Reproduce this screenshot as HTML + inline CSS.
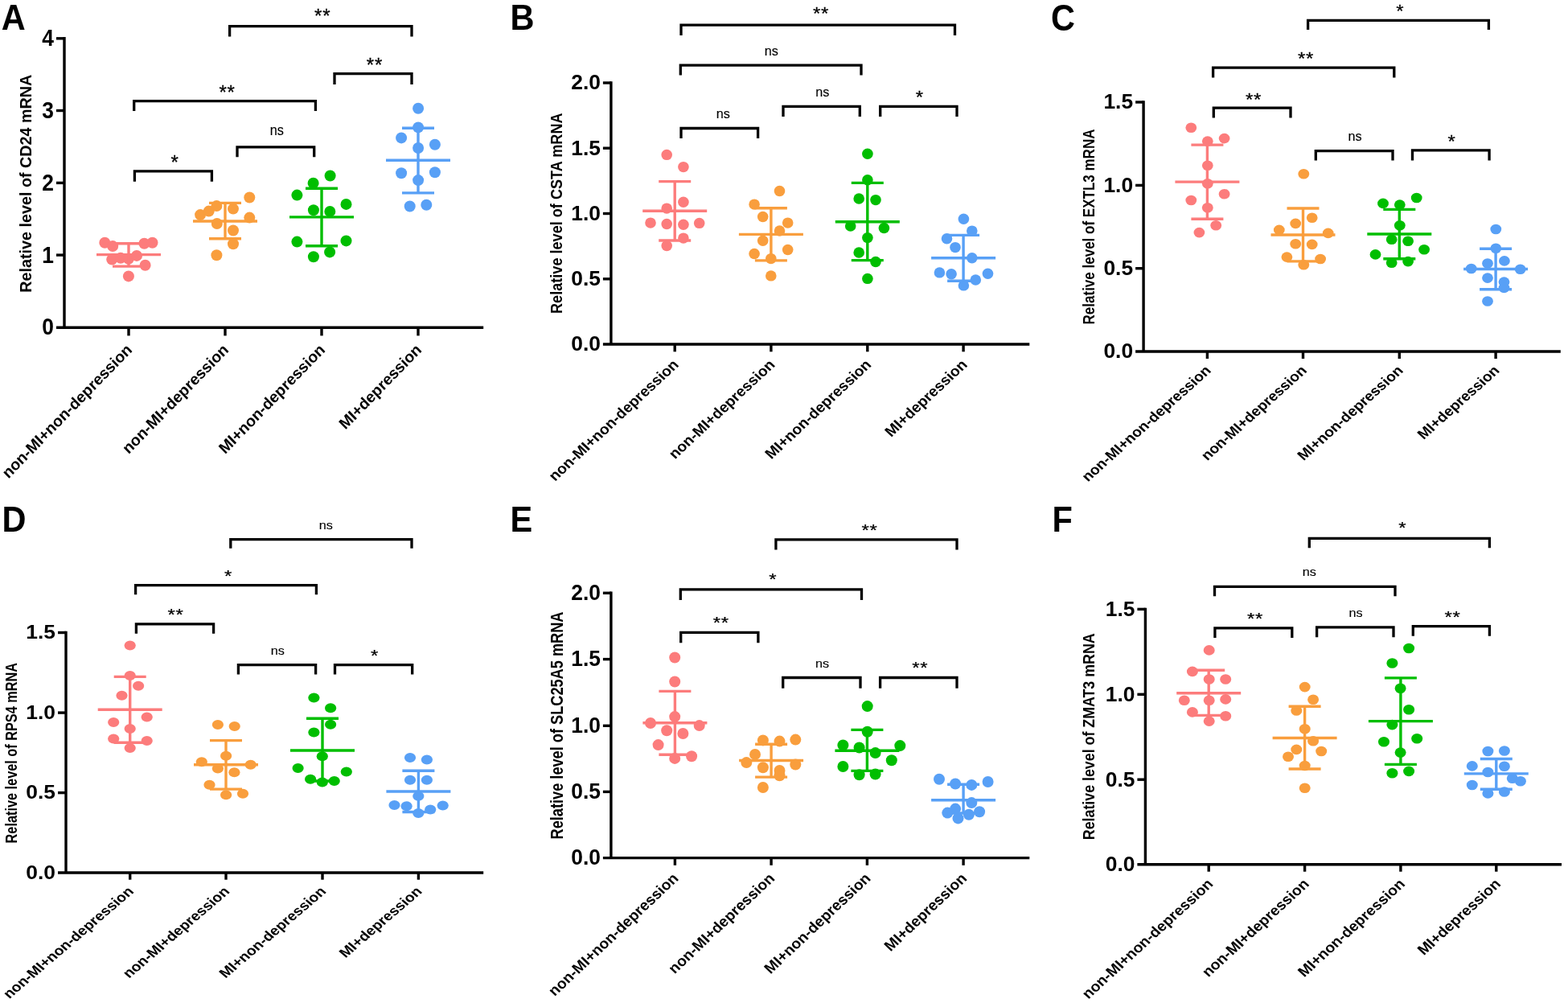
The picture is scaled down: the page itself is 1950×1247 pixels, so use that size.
<!DOCTYPE html>
<html><head><meta charset="utf-8"><title>Figure</title>
<style>html,body{margin:0;padding:0;background:#fff;}svg{display:block;}</style>
</head><body>
<svg width="1950" height="1247" viewBox="0 0 1950 1247" font-family="'Liberation Sans', Arial, Helvetica, sans-serif" fill="#000">
<rect width="1950" height="1247" fill="#fff"/>
<g fill="#FC7C7C">
<circle cx="130.3" cy="301.8" r="7"/>
<circle cx="140.2" cy="306.1" r="7"/>
<circle cx="179.4" cy="302.7" r="7"/>
<circle cx="189.5" cy="301.8" r="7"/>
<circle cx="139.2" cy="322.6" r="7"/>
<circle cx="150" cy="320.8" r="7"/>
<circle cx="159.9" cy="321.7" r="7"/>
<circle cx="170" cy="317.9" r="7"/>
<circle cx="180.6" cy="329.7" r="7"/>
<circle cx="159.9" cy="343.4" r="7"/>
</g>
<g stroke="#FC7C7C" stroke-width="3.4" fill="none">
<line x1="120" y1="316.6" x2="200" y2="316.6"/>
<line x1="140" y1="302.7" x2="180" y2="302.7"/>
<line x1="140" y1="331.1" x2="180" y2="331.1"/>
<line x1="160" y1="302.7" x2="160" y2="331.1"/>
</g>
<g fill="#F99E3D">
<circle cx="249.1" cy="267.1" r="7"/>
<circle cx="259.7" cy="262.6" r="7"/>
<circle cx="269.4" cy="256.1" r="7"/>
<circle cx="290" cy="259.6" r="7"/>
<circle cx="310.3" cy="245.5" r="7"/>
<circle cx="310.3" cy="270.6" r="7"/>
<circle cx="269.8" cy="278" r="7"/>
<circle cx="290" cy="286.5" r="7"/>
<circle cx="290" cy="303.2" r="7"/>
<circle cx="269.4" cy="317.3" r="7"/>
</g>
<g stroke="#F99E3D" stroke-width="3.4" fill="none">
<line x1="240" y1="275" x2="320" y2="275"/>
<line x1="260" y1="252.4" x2="300" y2="252.4"/>
<line x1="260" y1="296.7" x2="300" y2="296.7"/>
<line x1="280" y1="252.4" x2="280" y2="296.7"/>
</g>
<g fill="#00BE00">
<circle cx="410.6" cy="218.5" r="7"/>
<circle cx="389.6" cy="227.8" r="7"/>
<circle cx="369.4" cy="242.6" r="7"/>
<circle cx="430.5" cy="253.9" r="7"/>
<circle cx="389.9" cy="261.2" r="7"/>
<circle cx="410.3" cy="262.9" r="7"/>
<circle cx="369.4" cy="300.6" r="7"/>
<circle cx="430.5" cy="299.4" r="7"/>
<circle cx="410.1" cy="313.4" r="7"/>
<circle cx="389.9" cy="319.3" r="7"/>
</g>
<g stroke="#00BE00" stroke-width="3.4" fill="none">
<line x1="360" y1="269.9" x2="440" y2="269.9"/>
<line x1="380" y1="234.2" x2="420" y2="234.2"/>
<line x1="380" y1="305.8" x2="420" y2="305.8"/>
<line x1="400" y1="234.2" x2="400" y2="305.8"/>
</g>
<g fill="#58A0F6">
<circle cx="520.1" cy="134.8" r="7"/>
<circle cx="520.1" cy="158.4" r="7"/>
<circle cx="499.1" cy="171.4" r="7"/>
<circle cx="540.9" cy="179.8" r="7"/>
<circle cx="520.1" cy="184" r="7"/>
<circle cx="499.1" cy="215.2" r="7"/>
<circle cx="540.9" cy="214.3" r="7"/>
<circle cx="520.1" cy="224.1" r="7"/>
<circle cx="509.7" cy="256.5" r="7"/>
<circle cx="530.3" cy="254.8" r="7"/>
</g>
<g stroke="#58A0F6" stroke-width="3.4" fill="none">
<line x1="480" y1="199.2" x2="560" y2="199.2"/>
<line x1="500" y1="159.3" x2="540" y2="159.3"/>
<line x1="500" y1="239.9" x2="540" y2="239.9"/>
<line x1="520" y1="159.3" x2="520" y2="239.9"/>
</g>
<g stroke="#000" stroke-width="3.4" fill="none">
<path d="M80 46.1V407.2"/>
<path d="M70 407.2H601.2"/>
<path d="M70 317.1H80"/>
<path d="M70 227.4H80"/>
<path d="M70 137.5H80"/>
<path d="M70 47.8H80"/>
<path d="M160 407.2V417.4"/>
<path d="M280 407.2V417.4"/>
<path d="M400 407.2V417.4"/>
<path d="M520 407.2V417.4"/>
</g>
<g stroke="#000" stroke-width="3.3" fill="none">
<path d="M285.6 45.5V32.7H512V45.5"/>
<path d="M416 105V91.6H512V105"/>
<path d="M166.7 138V125.6H392.4V138"/>
<path d="M295 195.3V182.9H390.7V195.3"/>
<path d="M167.4 225.7V212.9H263.4V225.7"/>
</g>
<text transform="translate(401.2 11) scale(0.96 0.99)" y="17.4" text-anchor="middle" font-size="25" stroke="#000" stroke-width="0.3" letter-spacing="0.8">**</text>
<text transform="translate(465.9 71.7) scale(0.96 0.99)" y="17.4" text-anchor="middle" font-size="25" stroke="#000" stroke-width="0.3" letter-spacing="0.8">**</text>
<text transform="translate(282.6 105.4) scale(0.96 0.99)" y="17.4" text-anchor="middle" font-size="25" stroke="#000" stroke-width="0.3" letter-spacing="0.8">**</text>
<text transform="translate(344.2 163.1) scale(0.9 0.99)" y="5" text-anchor="middle" font-size="18" stroke="#000" stroke-width="0.15">ns</text>
<text transform="translate(217.2 192.3) scale(0.96 0.99)" y="17.4" text-anchor="middle" font-size="25" stroke="#000" stroke-width="0.3" letter-spacing="0">*</text>
<text transform="translate(67 416.4) scale(1 1.12)" text-anchor="end" font-size="26.4" font-weight="bold">0</text>
<text transform="translate(67 326.7) scale(1 1.12)" text-anchor="end" font-size="26.4" font-weight="bold">1</text>
<text transform="translate(67 237) scale(1 1.12)" text-anchor="end" font-size="26.4" font-weight="bold">2</text>
<text transform="translate(67 147.1) scale(1 1.12)" text-anchor="end" font-size="26.4" font-weight="bold">3</text>
<text transform="translate(67 57.4) scale(1 1.12)" text-anchor="end" font-size="26.4" font-weight="bold">4</text>
<text transform="translate(38.5 228.2) rotate(-90)" text-anchor="middle" font-size="20.1" font-weight="bold" textLength="271" lengthAdjust="spacingAndGlyphs">Relative level of CD24 mRNA</text>
<text transform="translate(165.4 436.1) scale(1 1.03) rotate(-45)" text-anchor="end" font-size="19.3" font-weight="bold">non-MI+non-depression</text>
<text transform="translate(285.4 436.1) scale(1 1.03) rotate(-45)" text-anchor="end" font-size="19.3" font-weight="bold">non-MI+depression</text>
<text transform="translate(405.4 436.1) scale(1 1.03) rotate(-45)" text-anchor="end" font-size="19.3" font-weight="bold">MI+non-depression</text>
<text transform="translate(525.4 436.1) scale(1 1.03) rotate(-45)" text-anchor="end" font-size="19.3" font-weight="bold">MI+depression</text>
<text transform="translate(1.8 37.2) scale(1 1.075)" font-size="41.5" font-weight="bold">A</text>
<g fill="#FC7C7C">
<ellipse cx="829.2" cy="192.4" rx="6.8" ry="6.7"/>
<ellipse cx="849.9" cy="207.6" rx="6.8" ry="6.7"/>
<ellipse cx="849.9" cy="251.2" rx="6.8" ry="6.7"/>
<ellipse cx="829.2" cy="259.1" rx="6.8" ry="6.7"/>
<ellipse cx="809" cy="277.1" rx="6.8" ry="6.7"/>
<ellipse cx="829.2" cy="278.5" rx="6.8" ry="6.7"/>
<ellipse cx="849.9" cy="279.2" rx="6.8" ry="6.7"/>
<ellipse cx="869.7" cy="277.4" rx="6.8" ry="6.7"/>
<ellipse cx="849.9" cy="296.1" rx="6.8" ry="6.7"/>
<ellipse cx="829.2" cy="305.6" rx="6.8" ry="6.7"/>
</g>
<g stroke="#FC7C7C" stroke-width="3.4" fill="none">
<line x1="799.2" y1="262.2" x2="879.2" y2="262.2"/>
<line x1="819.2" y1="225.6" x2="859.2" y2="225.6"/>
<line x1="819.2" y1="299" x2="859.2" y2="299"/>
<line x1="839.2" y1="225.6" x2="839.2" y2="299"/>
</g>
<g fill="#F99E3D">
<ellipse cx="969.5" cy="237.5" rx="6.8" ry="6.7"/>
<ellipse cx="938.1" cy="254.1" rx="6.8" ry="6.7"/>
<ellipse cx="948.7" cy="269.5" rx="6.8" ry="6.7"/>
<ellipse cx="979.7" cy="277.1" rx="6.8" ry="6.7"/>
<ellipse cx="969.5" cy="287" rx="6.8" ry="6.7"/>
<ellipse cx="948.7" cy="299.2" rx="6.8" ry="6.7"/>
<ellipse cx="979.7" cy="310.5" rx="6.8" ry="6.7"/>
<ellipse cx="938.1" cy="315.5" rx="6.8" ry="6.7"/>
<ellipse cx="958.8" cy="321.6" rx="6.8" ry="6.7"/>
<ellipse cx="958.8" cy="342.9" rx="6.8" ry="6.7"/>
</g>
<g stroke="#F99E3D" stroke-width="3.4" fill="none">
<line x1="918.9" y1="291.4" x2="998.9" y2="291.4"/>
<line x1="938.9" y1="258.8" x2="978.9" y2="258.8"/>
<line x1="938.9" y1="323.9" x2="978.9" y2="323.9"/>
<line x1="958.9" y1="258.8" x2="958.9" y2="323.9"/>
</g>
<g fill="#00BE00">
<ellipse cx="1078.9" cy="191.3" rx="6.8" ry="6.7"/>
<ellipse cx="1078.9" cy="223.7" rx="6.8" ry="6.7"/>
<ellipse cx="1068.2" cy="247" rx="6.8" ry="6.7"/>
<ellipse cx="1089" cy="248.6" rx="6.8" ry="6.7"/>
<ellipse cx="1057.7" cy="281.1" rx="6.8" ry="6.7"/>
<ellipse cx="1099.4" cy="283.5" rx="6.8" ry="6.7"/>
<ellipse cx="1078.9" cy="295.6" rx="6.8" ry="6.7"/>
<ellipse cx="1068.2" cy="314" rx="6.8" ry="6.7"/>
<ellipse cx="1089" cy="325.5" rx="6.8" ry="6.7"/>
<ellipse cx="1078.9" cy="346.4" rx="6.8" ry="6.7"/>
</g>
<g stroke="#00BE00" stroke-width="3.4" fill="none">
<line x1="1038.8" y1="275.8" x2="1118.8" y2="275.8"/>
<line x1="1058.8" y1="227.4" x2="1098.8" y2="227.4"/>
<line x1="1058.8" y1="323.6" x2="1098.8" y2="323.6"/>
<line x1="1078.8" y1="227.4" x2="1078.8" y2="323.6"/>
</g>
<g fill="#58A0F6">
<ellipse cx="1198.4" cy="272.3" rx="6.8" ry="6.7"/>
<ellipse cx="1208.8" cy="287.1" rx="6.8" ry="6.7"/>
<ellipse cx="1177.5" cy="296.7" rx="6.8" ry="6.7"/>
<ellipse cx="1188" cy="307.6" rx="6.8" ry="6.7"/>
<ellipse cx="1208.8" cy="320.7" rx="6.8" ry="6.7"/>
<ellipse cx="1168.4" cy="338.9" rx="6.8" ry="6.7"/>
<ellipse cx="1183.1" cy="340.8" rx="6.8" ry="6.7"/>
<ellipse cx="1228.5" cy="340.3" rx="6.8" ry="6.7"/>
<ellipse cx="1213.3" cy="348" rx="6.8" ry="6.7"/>
<ellipse cx="1198.4" cy="354.9" rx="6.8" ry="6.7"/>
</g>
<g stroke="#58A0F6" stroke-width="3.4" fill="none">
<line x1="1158.1" y1="320.7" x2="1238.1" y2="320.7"/>
<line x1="1178.1" y1="292.4" x2="1218.1" y2="292.4"/>
<line x1="1178.1" y1="349.3" x2="1218.1" y2="349.3"/>
<line x1="1198.1" y1="292.4" x2="1198.1" y2="349.3"/>
</g>
<g stroke="#000" stroke-width="3.4" fill="none">
<path d="M759.9 101.3V428"/>
<path d="M749.9 428H1280.3"/>
<path d="M749.9 346.8H759.9"/>
<path d="M749.9 265.5H759.9"/>
<path d="M749.9 184.2H759.9"/>
<path d="M749.9 103H759.9"/>
<path d="M839.2 428V437.3"/>
<path d="M958.9 428V437.3"/>
<path d="M1078.8 428V437.3"/>
<path d="M1198.1 428V437.3"/>
</g>
<g stroke="#000" stroke-width="3.3" fill="none">
<path d="M847 44V31.1H1187.5V44"/>
<path d="M846.3 93.4V81.2H1071V93.4"/>
<path d="M974 145V132.3H1069.3V145"/>
<path d="M1094.7 145V132.3H1190V145"/>
<path d="M847 172.1V159.5H942.6V172.1"/>
</g>
<text transform="translate(1021 8.5) scale(0.96 0.89)" y="17.4" text-anchor="middle" font-size="25" stroke="#000" stroke-width="0.3" letter-spacing="0.8">**</text>
<text transform="translate(959.2 64.6) scale(0.9 0.89)" y="5" text-anchor="middle" font-size="18" stroke="#000" stroke-width="0.15">ns</text>
<text transform="translate(1022.7 115.4) scale(0.9 0.89)" y="5" text-anchor="middle" font-size="18" stroke="#000" stroke-width="0.15">ns</text>
<text transform="translate(1143.4 112.6) scale(0.96 0.89)" y="17.4" text-anchor="middle" font-size="25" stroke="#000" stroke-width="0.3" letter-spacing="0">*</text>
<text transform="translate(899.2 142.9) scale(0.9 0.89)" y="5" text-anchor="middle" font-size="18" stroke="#000" stroke-width="0.15">ns</text>
<text transform="translate(746.9 436.4) scale(1 0.99)" text-anchor="end" font-size="26.4" font-weight="bold">0.0</text>
<text transform="translate(746.9 355.1) scale(1 0.99)" text-anchor="end" font-size="26.4" font-weight="bold">0.5</text>
<text transform="translate(746.9 273.9) scale(1 0.99)" text-anchor="end" font-size="26.4" font-weight="bold">1.0</text>
<text transform="translate(746.9 192.6) scale(1 0.99)" text-anchor="end" font-size="26.4" font-weight="bold">1.5</text>
<text transform="translate(746.9 111.4) scale(1 0.99)" text-anchor="end" font-size="26.4" font-weight="bold">2.0</text>
<text transform="translate(698.8 265.2) rotate(-90)" text-anchor="middle" font-size="19.7" font-weight="bold" textLength="249.5" lengthAdjust="spacingAndGlyphs">Relative level of CSTA mRNA</text>
<text transform="translate(845.1 454.4) scale(1 0.934) rotate(-45)" text-anchor="end" font-size="19.3" font-weight="bold">non-MI+non-depression</text>
<text transform="translate(964.8 454.4) scale(1 0.934) rotate(-45)" text-anchor="end" font-size="19.3" font-weight="bold">non-MI+depression</text>
<text transform="translate(1084.7 454.4) scale(1 0.934) rotate(-45)" text-anchor="end" font-size="19.3" font-weight="bold">MI+non-depression</text>
<text transform="translate(1204 454.4) scale(1 0.934) rotate(-45)" text-anchor="end" font-size="19.3" font-weight="bold">MI+depression</text>
<text transform="translate(634.4 36.7) scale(1 1.06)" font-size="41.5" font-weight="bold">B</text>
<g fill="#FC7C7C">
<ellipse cx="1481.3" cy="158.8" rx="6.9" ry="6.3"/>
<ellipse cx="1501.8" cy="175.6" rx="6.9" ry="6.3"/>
<ellipse cx="1522.6" cy="172.1" rx="6.9" ry="6.3"/>
<ellipse cx="1501.8" cy="205.7" rx="6.9" ry="6.3"/>
<ellipse cx="1501.8" cy="228.2" rx="6.9" ry="6.3"/>
<ellipse cx="1522.6" cy="241.3" rx="6.9" ry="6.3"/>
<ellipse cx="1481.3" cy="249" rx="6.9" ry="6.3"/>
<ellipse cx="1501.8" cy="258.2" rx="6.9" ry="6.3"/>
<ellipse cx="1512.2" cy="280.3" rx="6.9" ry="6.3"/>
<ellipse cx="1491.4" cy="289.1" rx="6.9" ry="6.3"/>
</g>
<g stroke="#FC7C7C" stroke-width="3.4" fill="none">
<line x1="1461.4" y1="226.1" x2="1541.4" y2="226.1"/>
<line x1="1481.4" y1="180.1" x2="1521.4" y2="180.1"/>
<line x1="1481.4" y1="272.3" x2="1521.4" y2="272.3"/>
<line x1="1501.4" y1="180.1" x2="1501.4" y2="272.3"/>
</g>
<g fill="#F99E3D">
<ellipse cx="1621.3" cy="216.2" rx="6.9" ry="6.3"/>
<ellipse cx="1631.7" cy="270.7" rx="6.9" ry="6.3"/>
<ellipse cx="1611.2" cy="277.9" rx="6.9" ry="6.3"/>
<ellipse cx="1590.8" cy="285.9" rx="6.9" ry="6.3"/>
<ellipse cx="1651.7" cy="289.9" rx="6.9" ry="6.3"/>
<ellipse cx="1611.2" cy="303.2" rx="6.9" ry="6.3"/>
<ellipse cx="1631.7" cy="303.9" rx="6.9" ry="6.3"/>
<ellipse cx="1600.4" cy="319.6" rx="6.9" ry="6.3"/>
<ellipse cx="1642.1" cy="322" rx="6.9" ry="6.3"/>
<ellipse cx="1621.3" cy="329.2" rx="6.9" ry="6.3"/>
</g>
<g stroke="#F99E3D" stroke-width="3.4" fill="none">
<line x1="1580.5" y1="292" x2="1660.5" y2="292"/>
<line x1="1600.5" y1="259" x2="1640.5" y2="259"/>
<line x1="1600.5" y1="324.9" x2="1640.5" y2="324.9"/>
<line x1="1620.5" y1="259" x2="1620.5" y2="324.9"/>
</g>
<g fill="#00BE00">
<ellipse cx="1720" cy="252.9" rx="6.9" ry="6.3"/>
<ellipse cx="1740.8" cy="254.6" rx="6.9" ry="6.3"/>
<ellipse cx="1761.7" cy="246" rx="6.9" ry="6.3"/>
<ellipse cx="1740.8" cy="280.3" rx="6.9" ry="6.3"/>
<ellipse cx="1730.7" cy="297.7" rx="6.9" ry="6.3"/>
<ellipse cx="1751.1" cy="299.8" rx="6.9" ry="6.3"/>
<ellipse cx="1710.5" cy="316.4" rx="6.9" ry="6.3"/>
<ellipse cx="1771.1" cy="310.2" rx="6.9" ry="6.3"/>
<ellipse cx="1730.7" cy="326.8" rx="6.9" ry="6.3"/>
<ellipse cx="1751.1" cy="325.1" rx="6.9" ry="6.3"/>
</g>
<g stroke="#00BE00" stroke-width="3.4" fill="none">
<line x1="1700.3" y1="291" x2="1780.3" y2="291"/>
<line x1="1720.3" y1="260.4" x2="1760.3" y2="260.4"/>
<line x1="1720.3" y1="321.8" x2="1760.3" y2="321.8"/>
<line x1="1740.3" y1="260.4" x2="1740.3" y2="321.8"/>
</g>
<g fill="#58A0F6">
<ellipse cx="1860.3" cy="285" rx="6.9" ry="6.3"/>
<ellipse cx="1860.3" cy="308.8" rx="6.9" ry="6.3"/>
<ellipse cx="1870.9" cy="324.4" rx="6.9" ry="6.3"/>
<ellipse cx="1850" cy="327.5" rx="6.9" ry="6.3"/>
<ellipse cx="1829.7" cy="334" rx="6.9" ry="6.3"/>
<ellipse cx="1890.7" cy="334.8" rx="6.9" ry="6.3"/>
<ellipse cx="1850" cy="345.6" rx="6.9" ry="6.3"/>
<ellipse cx="1870.5" cy="350.6" rx="6.9" ry="6.3"/>
<ellipse cx="1870.5" cy="357.9" rx="6.9" ry="6.3"/>
<ellipse cx="1850" cy="374.5" rx="6.9" ry="6.3"/>
</g>
<g stroke="#58A0F6" stroke-width="3.4" fill="none">
<line x1="1820.1" y1="334.5" x2="1900.1" y2="334.5"/>
<line x1="1840.1" y1="309.2" x2="1880.1" y2="309.2"/>
<line x1="1840.1" y1="359.7" x2="1880.1" y2="359.7"/>
<line x1="1860.1" y1="309.2" x2="1860.1" y2="359.7"/>
</g>
<g stroke="#000" stroke-width="3.4" fill="none">
<path d="M1422.1 125.3V437"/>
<path d="M1412.1 437H1940.8"/>
<path d="M1412.1 333.7H1422.1"/>
<path d="M1412.1 230.4H1422.1"/>
<path d="M1412.1 127H1422.1"/>
<path d="M1501.4 437V446"/>
<path d="M1620.5 437V446"/>
<path d="M1740.3 437V446"/>
<path d="M1860.1 437V446"/>
</g>
<g stroke="#000" stroke-width="3.3" fill="none">
<path d="M1626.6 37.1V25.3H1851.4V37.1"/>
<path d="M1508.6 96.6V84.1H1733.8V96.6"/>
<path d="M1509.3 146.4V134.2H1605V146.4"/>
<path d="M1636.3 199.5V187.7H1732V199.5"/>
<path d="M1756.5 199.5V186.9H1852.1V199.5"/>
</g>
<text transform="translate(1741 6.1) scale(0.96 0.87)" y="17.4" text-anchor="middle" font-size="25" stroke="#000" stroke-width="0.3" letter-spacing="0">*</text>
<text transform="translate(1624.1 64.9) scale(0.96 0.87)" y="17.4" text-anchor="middle" font-size="25" stroke="#000" stroke-width="0.3" letter-spacing="0.8">**</text>
<text transform="translate(1559.1 115.4) scale(0.96 0.87)" y="17.4" text-anchor="middle" font-size="25" stroke="#000" stroke-width="0.3" letter-spacing="0.8">**</text>
<text transform="translate(1685 170.7) scale(0.9 0.87)" y="5" text-anchor="middle" font-size="18" stroke="#000" stroke-width="0.15">ns</text>
<text transform="translate(1805.2 167.7) scale(0.96 0.87)" y="17.4" text-anchor="middle" font-size="25" stroke="#000" stroke-width="0.3" letter-spacing="0">*</text>
<text transform="translate(1409.1 445.2) scale(1 0.97)" text-anchor="end" font-size="26.4" font-weight="bold">0.0</text>
<text transform="translate(1409.1 341.9) scale(1 0.97)" text-anchor="end" font-size="26.4" font-weight="bold">0.5</text>
<text transform="translate(1409.1 238.6) scale(1 0.97)" text-anchor="end" font-size="26.4" font-weight="bold">1.0</text>
<text transform="translate(1409.1 135.2) scale(1 0.97)" text-anchor="end" font-size="26.4" font-weight="bold">1.5</text>
<text transform="translate(1361.3 282) rotate(-90)" text-anchor="middle" font-size="20.1" font-weight="bold" textLength="242.9" lengthAdjust="spacingAndGlyphs">Relative level of EXTL3 mRNA</text>
<text transform="translate(1507.1 461.7) scale(1 0.894) rotate(-45)" text-anchor="end" font-size="19.2" font-weight="bold">non-MI+non-depression</text>
<text transform="translate(1626.2 461.7) scale(1 0.894) rotate(-45)" text-anchor="end" font-size="19.2" font-weight="bold">non-MI+depression</text>
<text transform="translate(1746 461.7) scale(1 0.894) rotate(-45)" text-anchor="end" font-size="19.2" font-weight="bold">MI+non-depression</text>
<text transform="translate(1865.8 461.7) scale(1 0.894) rotate(-45)" text-anchor="end" font-size="19.2" font-weight="bold">MI+depression</text>
<text transform="translate(1307.1 37.6) scale(1 1.12)" font-size="41.5" font-weight="bold">C</text>
<g fill="#FC7C7C">
<ellipse cx="161.7" cy="802.6" rx="7.1" ry="6"/>
<ellipse cx="161.7" cy="840" rx="7.1" ry="6"/>
<ellipse cx="172.1" cy="852.7" rx="7.1" ry="6"/>
<ellipse cx="151.5" cy="864.7" rx="7.1" ry="6"/>
<ellipse cx="182.7" cy="891.5" rx="7.1" ry="6"/>
<ellipse cx="141.2" cy="897.9" rx="7.1" ry="6"/>
<ellipse cx="161.7" cy="906.1" rx="7.1" ry="6"/>
<ellipse cx="141.2" cy="918.5" rx="7.1" ry="6"/>
<ellipse cx="182.7" cy="921.1" rx="7.1" ry="6"/>
<ellipse cx="161.7" cy="930" rx="7.1" ry="6"/>
</g>
<g stroke="#FC7C7C" stroke-width="3.4" fill="none">
<line x1="121.7" y1="882.3" x2="201.7" y2="882.3"/>
<line x1="141.7" y1="841.4" x2="181.7" y2="841.4"/>
<line x1="141.7" y1="923.3" x2="181.7" y2="923.3"/>
<line x1="161.7" y1="841.4" x2="161.7" y2="923.3"/>
</g>
<g fill="#F99E3D">
<ellipse cx="270.9" cy="900.9" rx="7.1" ry="6"/>
<ellipse cx="291.7" cy="903.1" rx="7.1" ry="6"/>
<ellipse cx="281.1" cy="939.7" rx="7.1" ry="6"/>
<ellipse cx="250.8" cy="947.3" rx="7.1" ry="6"/>
<ellipse cx="311.7" cy="950.8" rx="7.1" ry="6"/>
<ellipse cx="270.9" cy="955.5" rx="7.1" ry="6"/>
<ellipse cx="291.4" cy="960.3" rx="7.1" ry="6"/>
<ellipse cx="260.5" cy="975.8" rx="7.1" ry="6"/>
<ellipse cx="281.1" cy="988.2" rx="7.1" ry="6"/>
<ellipse cx="302" cy="986.8" rx="7.1" ry="6"/>
</g>
<g stroke="#F99E3D" stroke-width="3.4" fill="none">
<line x1="241" y1="950.8" x2="321" y2="950.8"/>
<line x1="261" y1="920.6" x2="301" y2="920.6"/>
<line x1="261" y1="981.1" x2="301" y2="981.1"/>
<line x1="281" y1="920.6" x2="281" y2="981.1"/>
</g>
<g fill="#00BE00">
<ellipse cx="390.4" cy="867.6" rx="7.1" ry="6"/>
<ellipse cx="411.1" cy="880.3" rx="7.1" ry="6"/>
<ellipse cx="411.1" cy="900.8" rx="7.1" ry="6"/>
<ellipse cx="390.4" cy="910.6" rx="7.1" ry="6"/>
<ellipse cx="400.8" cy="940.2" rx="7.1" ry="6"/>
<ellipse cx="370.6" cy="955" rx="7.1" ry="6"/>
<ellipse cx="430.8" cy="959.4" rx="7.1" ry="6"/>
<ellipse cx="386.1" cy="968.7" rx="7.1" ry="6"/>
<ellipse cx="400.8" cy="972.4" rx="7.1" ry="6"/>
<ellipse cx="415.7" cy="971" rx="7.1" ry="6"/>
</g>
<g stroke="#00BE00" stroke-width="3.4" fill="none">
<line x1="361" y1="933" x2="441" y2="933"/>
<line x1="381" y1="893.3" x2="421" y2="893.3"/>
<line x1="381" y1="971" x2="421" y2="971"/>
<line x1="401" y1="893.3" x2="401" y2="971"/>
</g>
<g fill="#58A0F6">
<ellipse cx="510" cy="942.1" rx="7.1" ry="6"/>
<ellipse cx="530.9" cy="944.6" rx="7.1" ry="6"/>
<ellipse cx="510" cy="969.8" rx="7.1" ry="6"/>
<ellipse cx="530.9" cy="969.8" rx="7.1" ry="6"/>
<ellipse cx="520.3" cy="989.7" rx="7.1" ry="6"/>
<ellipse cx="490.5" cy="1000.9" rx="7.1" ry="6"/>
<ellipse cx="505.6" cy="1002.3" rx="7.1" ry="6"/>
<ellipse cx="550.7" cy="1001.6" rx="7.1" ry="6"/>
<ellipse cx="535.2" cy="1006.6" rx="7.1" ry="6"/>
<ellipse cx="520.3" cy="1011" rx="7.1" ry="6"/>
</g>
<g stroke="#58A0F6" stroke-width="3.4" fill="none">
<line x1="480.4" y1="984" x2="560.4" y2="984"/>
<line x1="500.4" y1="958.3" x2="540.4" y2="958.3"/>
<line x1="500.4" y1="1009.5" x2="540.4" y2="1009.5"/>
<line x1="520.4" y1="958.3" x2="520.4" y2="1009.5"/>
</g>
<g stroke="#000" stroke-width="3.4" fill="none">
<path d="M82 784.8V1085"/>
<path d="M72 1085H601.2"/>
<path d="M72 985.6H82"/>
<path d="M72 886.1H82"/>
<path d="M72 786.5H82"/>
<path d="M161.7 1085V1093.7"/>
<path d="M281 1085V1093.7"/>
<path d="M401 1085V1093.7"/>
<path d="M520.4 1085V1093.7"/>
</g>
<g stroke="#000" stroke-width="3.3" fill="none">
<path d="M286.8 681.8V670.6H512V681.8"/>
<path d="M168.6 739.2V727.6H393.4V739.2"/>
<path d="M169.4 787.7V775.8H265.6V787.7"/>
<path d="M296.4 838.5V826.7H392.6V838.5"/>
<path d="M416.5 838.5V826.7H512.7V838.5"/>
</g>
<text transform="translate(405.3 654.3) scale(0.9 0.79)" y="5" text-anchor="middle" font-size="18" stroke="#000" stroke-width="0.15">ns</text>
<text transform="translate(283.7 709.1) scale(0.96 0.79)" y="17.4" text-anchor="middle" font-size="25" stroke="#000" stroke-width="0.3" letter-spacing="0">*</text>
<text transform="translate(218.6 757.2) scale(0.96 0.79)" y="17.4" text-anchor="middle" font-size="25" stroke="#000" stroke-width="0.3" letter-spacing="0.8">**</text>
<text transform="translate(345.3 810.2) scale(0.9 0.79)" y="5" text-anchor="middle" font-size="18" stroke="#000" stroke-width="0.15">ns</text>
<text transform="translate(465.7 807.9) scale(0.96 0.79)" y="17.4" text-anchor="middle" font-size="25" stroke="#000" stroke-width="0.3" letter-spacing="0">*</text>
<text transform="translate(69 1092.5) scale(1 0.89)" text-anchor="end" font-size="26.4" font-weight="bold">0.0</text>
<text transform="translate(69 993.1) scale(1 0.89)" text-anchor="end" font-size="26.4" font-weight="bold">0.5</text>
<text transform="translate(69 893.6) scale(1 0.89)" text-anchor="end" font-size="26.4" font-weight="bold">1.0</text>
<text transform="translate(69 794) scale(1 0.89)" text-anchor="end" font-size="26.4" font-weight="bold">1.5</text>
<text transform="translate(21.2 936.2) rotate(-90)" text-anchor="middle" font-size="20" font-weight="bold" textLength="224.4" lengthAdjust="spacingAndGlyphs">Relative level of RPS4 mRNA</text>
<text transform="translate(167.3 1109.2) scale(1 0.854) rotate(-45)" text-anchor="end" font-size="19.4" font-weight="bold">non-MI+non-depression</text>
<text transform="translate(286.6 1109.2) scale(1 0.854) rotate(-45)" text-anchor="end" font-size="19.4" font-weight="bold">non-MI+depression</text>
<text transform="translate(406.6 1109.2) scale(1 0.854) rotate(-45)" text-anchor="end" font-size="19.4" font-weight="bold">MI+non-depression</text>
<text transform="translate(526 1109.2) scale(1 0.854) rotate(-45)" text-anchor="end" font-size="19.4" font-weight="bold">MI+depression</text>
<text transform="translate(2.4 661.3) scale(1 1.07)" font-size="41.5" font-weight="bold">D</text>
<g fill="#FC7C7C">
<circle cx="839.2" cy="817.5" r="7"/>
<circle cx="839.2" cy="847.5" r="7"/>
<circle cx="839.2" cy="891.1" r="7"/>
<circle cx="809" cy="899" r="7"/>
<circle cx="869.7" cy="902.1" r="7"/>
<circle cx="829.2" cy="908.2" r="7"/>
<circle cx="849.4" cy="912" r="7"/>
<circle cx="818.6" cy="926.1" r="7"/>
<circle cx="839.2" cy="942.9" r="7"/>
<circle cx="860.1" cy="940.2" r="7"/>
</g>
<g stroke="#FC7C7C" stroke-width="3.4" fill="none">
<line x1="799.4" y1="898.7" x2="879.4" y2="898.7"/>
<line x1="819.4" y1="859.4" x2="859.4" y2="859.4"/>
<line x1="819.4" y1="938.2" x2="859.4" y2="938.2"/>
<line x1="839.4" y1="859.4" x2="839.4" y2="938.2"/>
</g>
<g fill="#F99E3D">
<circle cx="948.9" cy="920.4" r="7"/>
<circle cx="969.5" cy="921.6" r="7"/>
<circle cx="989.3" cy="919.6" r="7"/>
<circle cx="939" cy="937.9" r="7"/>
<circle cx="928.3" cy="948.1" r="7"/>
<circle cx="989.3" cy="950.5" r="7"/>
<circle cx="948.9" cy="954.2" r="7"/>
<circle cx="969.5" cy="958" r="7"/>
<circle cx="969.5" cy="964.2" r="7"/>
<circle cx="948.9" cy="979" r="7"/>
</g>
<g stroke="#F99E3D" stroke-width="3.4" fill="none">
<line x1="919.1" y1="945.5" x2="999.1" y2="945.5"/>
<line x1="939.1" y1="925.2" x2="979.1" y2="925.2"/>
<line x1="939.1" y1="966.1" x2="979.1" y2="966.1"/>
<line x1="959.1" y1="925.2" x2="959.1" y2="966.1"/>
</g>
<g fill="#00BE00">
<circle cx="1078.7" cy="878.1" r="7"/>
<circle cx="1078.7" cy="909.8" r="7"/>
<circle cx="1048.4" cy="926.4" r="7"/>
<circle cx="1068.6" cy="929.5" r="7"/>
<circle cx="1119.3" cy="927.1" r="7"/>
<circle cx="1088.6" cy="936.1" r="7"/>
<circle cx="1108.8" cy="945.2" r="7"/>
<circle cx="1048.4" cy="953" r="7"/>
<circle cx="1068.6" cy="963.2" r="7"/>
<circle cx="1088.6" cy="962.5" r="7"/>
</g>
<g stroke="#00BE00" stroke-width="3.4" fill="none">
<line x1="1038.4" y1="933.3" x2="1118.4" y2="933.3"/>
<line x1="1058.4" y1="907.4" x2="1098.4" y2="907.4"/>
<line x1="1058.4" y1="958.4" x2="1098.4" y2="958.4"/>
<line x1="1078.4" y1="907.4" x2="1078.4" y2="958.4"/>
</g>
<g fill="#58A0F6">
<circle cx="1168" cy="968.8" r="7"/>
<circle cx="1188.1" cy="974.5" r="7"/>
<circle cx="1208.3" cy="975.9" r="7"/>
<circle cx="1228.6" cy="972" r="7"/>
<circle cx="1208.3" cy="998.1" r="7"/>
<circle cx="1188.1" cy="1005.6" r="7"/>
<circle cx="1178.3" cy="1010.6" r="7"/>
<circle cx="1204.9" cy="1012.7" r="7"/>
<circle cx="1218.1" cy="1009.3" r="7"/>
<circle cx="1191.5" cy="1017.4" r="7"/>
</g>
<g stroke="#58A0F6" stroke-width="3.4" fill="none">
<line x1="1158.1" y1="994.7" x2="1238.1" y2="994.7"/>
<line x1="1178.1" y1="975.2" x2="1218.1" y2="975.2"/>
<line x1="1178.1" y1="1011" x2="1218.1" y2="1011"/>
<line x1="1198.1" y1="975.2" x2="1198.1" y2="1011"/>
</g>
<g stroke="#000" stroke-width="3.4" fill="none">
<path d="M759.9 735.6V1066.6"/>
<path d="M749.9 1066.6H1280.3"/>
<path d="M749.9 984.4H759.9"/>
<path d="M749.9 902.3H759.9"/>
<path d="M749.9 819.6H759.9"/>
<path d="M749.9 737.3H759.9"/>
<path d="M839.4 1066.6V1075.8"/>
<path d="M959.1 1066.6V1075.8"/>
<path d="M1078.4 1066.6V1075.8"/>
<path d="M1198.1 1066.6V1075.8"/>
</g>
<g stroke="#000" stroke-width="3.3" fill="none">
<path d="M964.9 683.6V670.8H1190V683.6"/>
<path d="M846.3 746.1V732.8H1071.5V746.1"/>
<path d="M846.7 799.2V786.3H942.9V799.2"/>
<path d="M973.7 855.8V842.5H1070V855.8"/>
<path d="M1094.6 855.8V842.5H1190V855.8"/>
</g>
<text transform="translate(1081.5 651.3) scale(0.96 0.82)" y="17.4" text-anchor="middle" font-size="25" stroke="#000" stroke-width="0.3" letter-spacing="0.8">**</text>
<text transform="translate(961 712.9) scale(0.96 0.82)" y="17.4" text-anchor="middle" font-size="25" stroke="#000" stroke-width="0.3" letter-spacing="0">*</text>
<text transform="translate(896.8 766.8) scale(0.96 0.82)" y="17.4" text-anchor="middle" font-size="25" stroke="#000" stroke-width="0.3" letter-spacing="0.8">**</text>
<text transform="translate(1022.6 825.6) scale(0.9 0.82)" y="5" text-anchor="middle" font-size="18" stroke="#000" stroke-width="0.15">ns</text>
<text transform="translate(1144.3 822.6) scale(0.96 0.82)" y="17.4" text-anchor="middle" font-size="25" stroke="#000" stroke-width="0.3" letter-spacing="0.8">**</text>
<text transform="translate(746.9 1075.2) scale(1 1.02)" text-anchor="end" font-size="26.4" font-weight="bold">0.0</text>
<text transform="translate(746.9 993.1) scale(1 1.02)" text-anchor="end" font-size="26.4" font-weight="bold">0.5</text>
<text transform="translate(746.9 911) scale(1 1.02)" text-anchor="end" font-size="26.4" font-weight="bold">1.0</text>
<text transform="translate(746.9 828.3) scale(1 1.02)" text-anchor="end" font-size="26.4" font-weight="bold">1.5</text>
<text transform="translate(746.9 746) scale(1 1.02)" text-anchor="end" font-size="26.4" font-weight="bold">2.0</text>
<text transform="translate(700.4 902) rotate(-90)" text-anchor="middle" font-size="21.5" font-weight="bold" textLength="282.9" lengthAdjust="spacingAndGlyphs">Relative level of SLC25A5 mRNA</text>
<text transform="translate(844.8 1093.1) scale(1 0.943) rotate(-45)" text-anchor="end" font-size="19.3" font-weight="bold">non-MI+non-depression</text>
<text transform="translate(964.5 1093.1) scale(1 0.943) rotate(-45)" text-anchor="end" font-size="19.3" font-weight="bold">non-MI+depression</text>
<text transform="translate(1083.8 1093.1) scale(1 0.943) rotate(-45)" text-anchor="end" font-size="19.3" font-weight="bold">MI+non-depression</text>
<text transform="translate(1203.5 1093.1) scale(1 0.943) rotate(-45)" text-anchor="end" font-size="19.3" font-weight="bold">MI+depression</text>
<text transform="translate(634.4 660.5) scale(1 1.07)" font-size="41.5" font-weight="bold">E</text>
<g fill="#FC7C7C">
<ellipse cx="1503.7" cy="808.4" rx="7" ry="6.3"/>
<ellipse cx="1482.9" cy="834.9" rx="7" ry="6.3"/>
<ellipse cx="1503.7" cy="844.5" rx="7" ry="6.3"/>
<ellipse cx="1524.2" cy="844.5" rx="7" ry="6.3"/>
<ellipse cx="1472.8" cy="870.7" rx="7" ry="6.3"/>
<ellipse cx="1503.7" cy="870.7" rx="7" ry="6.3"/>
<ellipse cx="1524.2" cy="869.4" rx="7" ry="6.3"/>
<ellipse cx="1482.9" cy="885.4" rx="7" ry="6.3"/>
<ellipse cx="1524.2" cy="890.2" rx="7" ry="6.3"/>
<ellipse cx="1503.7" cy="896.6" rx="7" ry="6.3"/>
</g>
<g stroke="#FC7C7C" stroke-width="3.4" fill="none">
<line x1="1463.2" y1="861.7" x2="1543.2" y2="861.7"/>
<line x1="1483.2" y1="833.3" x2="1523.2" y2="833.3"/>
<line x1="1483.2" y1="889.4" x2="1523.2" y2="889.4"/>
<line x1="1503.2" y1="833.3" x2="1503.2" y2="889.4"/>
</g>
<g fill="#F99E3D">
<ellipse cx="1622.7" cy="854.1" rx="7" ry="6.3"/>
<ellipse cx="1633.1" cy="869.7" rx="7" ry="6.3"/>
<ellipse cx="1612.3" cy="883.5" rx="7" ry="6.3"/>
<ellipse cx="1622.7" cy="906.3" rx="7" ry="6.3"/>
<ellipse cx="1633.1" cy="921.2" rx="7" ry="6.3"/>
<ellipse cx="1612.3" cy="931.9" rx="7" ry="6.3"/>
<ellipse cx="1643.2" cy="934" rx="7" ry="6.3"/>
<ellipse cx="1602" cy="940.7" rx="7" ry="6.3"/>
<ellipse cx="1622.7" cy="952" rx="7" ry="6.3"/>
<ellipse cx="1622.7" cy="979.7" rx="7" ry="6.3"/>
</g>
<g stroke="#F99E3D" stroke-width="3.4" fill="none">
<line x1="1582.6" y1="917.5" x2="1662.6" y2="917.5"/>
<line x1="1602.6" y1="878.2" x2="1642.6" y2="878.2"/>
<line x1="1602.6" y1="956" x2="1642.6" y2="956"/>
<line x1="1622.6" y1="878.2" x2="1622.6" y2="956"/>
</g>
<g fill="#00BE00">
<ellipse cx="1752.1" cy="806" rx="7" ry="6.3"/>
<ellipse cx="1731.4" cy="824.5" rx="7" ry="6.3"/>
<ellipse cx="1741.6" cy="855.7" rx="7" ry="6.3"/>
<ellipse cx="1752.1" cy="882.2" rx="7" ry="6.3"/>
<ellipse cx="1731.4" cy="901.1" rx="7" ry="6.3"/>
<ellipse cx="1721" cy="922.3" rx="7" ry="6.3"/>
<ellipse cx="1762.2" cy="918.3" rx="7" ry="6.3"/>
<ellipse cx="1741.6" cy="935.6" rx="7" ry="6.3"/>
<ellipse cx="1731.4" cy="961.3" rx="7" ry="6.3"/>
<ellipse cx="1752.1" cy="958.9" rx="7" ry="6.3"/>
</g>
<g stroke="#00BE00" stroke-width="3.4" fill="none">
<line x1="1701.9" y1="896.6" x2="1781.9" y2="896.6"/>
<line x1="1721.9" y1="842.9" x2="1761.9" y2="842.9"/>
<line x1="1721.9" y1="950.4" x2="1761.9" y2="950.4"/>
<line x1="1741.9" y1="842.9" x2="1741.9" y2="950.4"/>
</g>
<g fill="#58A0F6">
<ellipse cx="1850.4" cy="934" rx="7" ry="6.3"/>
<ellipse cx="1870.9" cy="933.5" rx="7" ry="6.3"/>
<ellipse cx="1830.8" cy="952.4" rx="7" ry="6.3"/>
<ellipse cx="1870.9" cy="952.8" rx="7" ry="6.3"/>
<ellipse cx="1850.4" cy="960" rx="7" ry="6.3"/>
<ellipse cx="1880.8" cy="967.7" rx="7" ry="6.3"/>
<ellipse cx="1890.9" cy="971.2" rx="7" ry="6.3"/>
<ellipse cx="1830.8" cy="976" rx="7" ry="6.3"/>
<ellipse cx="1850.4" cy="986.4" rx="7" ry="6.3"/>
<ellipse cx="1870.9" cy="984.5" rx="7" ry="6.3"/>
</g>
<g stroke="#58A0F6" stroke-width="3.4" fill="none">
<line x1="1820.8" y1="961.9" x2="1900.8" y2="961.9"/>
<line x1="1840.8" y1="943.5" x2="1880.8" y2="943.5"/>
<line x1="1840.8" y1="981.3" x2="1880.8" y2="981.3"/>
<line x1="1860.8" y1="943.5" x2="1860.8" y2="981.3"/>
</g>
<g stroke="#000" stroke-width="3.4" fill="none">
<path d="M1424.4 755.7V1074.8"/>
<path d="M1414.4 1074.8H1942"/>
<path d="M1414.4 969.2H1424.4"/>
<path d="M1414.4 863.3H1424.4"/>
<path d="M1414.4 757.4H1424.4"/>
<path d="M1503.2 1074.8V1083.7"/>
<path d="M1622.6 1074.8V1083.7"/>
<path d="M1741.9 1074.8V1083.7"/>
<path d="M1860.8 1074.8V1083.7"/>
</g>
<g stroke="#000" stroke-width="3.3" fill="none">
<path d="M1628.3 681.2V669.3H1852.4V681.2"/>
<path d="M1510.5 741.3V729.4H1735V741.3"/>
<path d="M1510.9 792.9V780.8H1606.8V792.9"/>
<path d="M1637.6 792.2V779.8H1733V792.2"/>
<path d="M1757.3 790.8V778.7H1852.4V790.8"/>
</g>
<text transform="translate(1743.8 649.4) scale(0.96 0.8)" y="17.4" text-anchor="middle" font-size="25" stroke="#000" stroke-width="0.3" letter-spacing="0">*</text>
<text transform="translate(1628.3 712.1) scale(0.9 0.8)" y="5" text-anchor="middle" font-size="18" stroke="#000" stroke-width="0.15">ns</text>
<text transform="translate(1561 761.8) scale(0.96 0.8)" y="17.4" text-anchor="middle" font-size="25" stroke="#000" stroke-width="0.3" letter-spacing="0.8">**</text>
<text transform="translate(1686.1 762.9) scale(0.9 0.8)" y="5" text-anchor="middle" font-size="18" stroke="#000" stroke-width="0.15">ns</text>
<text transform="translate(1806.6 760.2) scale(0.96 0.8)" y="17.4" text-anchor="middle" font-size="25" stroke="#000" stroke-width="0.3" letter-spacing="0.8">**</text>
<text transform="translate(1411.4 1083.1) scale(1 0.98)" text-anchor="end" font-size="26.4" font-weight="bold">0.0</text>
<text transform="translate(1411.4 977.5) scale(1 0.98)" text-anchor="end" font-size="26.4" font-weight="bold">0.5</text>
<text transform="translate(1411.4 871.6) scale(1 0.98)" text-anchor="end" font-size="26.4" font-weight="bold">1.0</text>
<text transform="translate(1411.4 765.7) scale(1 0.98)" text-anchor="end" font-size="26.4" font-weight="bold">1.5</text>
<text transform="translate(1360.8 915.8) rotate(-90)" text-anchor="middle" font-size="20.4" font-weight="bold" textLength="256.8" lengthAdjust="spacingAndGlyphs">Relative level of ZMAT3 mRNA</text>
<text transform="translate(1509.7 1100.2) scale(1 0.912) rotate(-45)" text-anchor="end" font-size="19.45" font-weight="bold">non-MI+non-depression</text>
<text transform="translate(1629.1 1100.2) scale(1 0.912) rotate(-45)" text-anchor="end" font-size="19.45" font-weight="bold">non-MI+depression</text>
<text transform="translate(1748.4 1100.2) scale(1 0.912) rotate(-45)" text-anchor="end" font-size="19.45" font-weight="bold">MI+non-depression</text>
<text transform="translate(1867.3 1100.2) scale(1 0.912) rotate(-45)" text-anchor="end" font-size="19.45" font-weight="bold">MI+depression</text>
<text transform="translate(1308.5 660.5) scale(1 1.07)" font-size="41.5" font-weight="bold">F</text>
</svg>
</body></html>
